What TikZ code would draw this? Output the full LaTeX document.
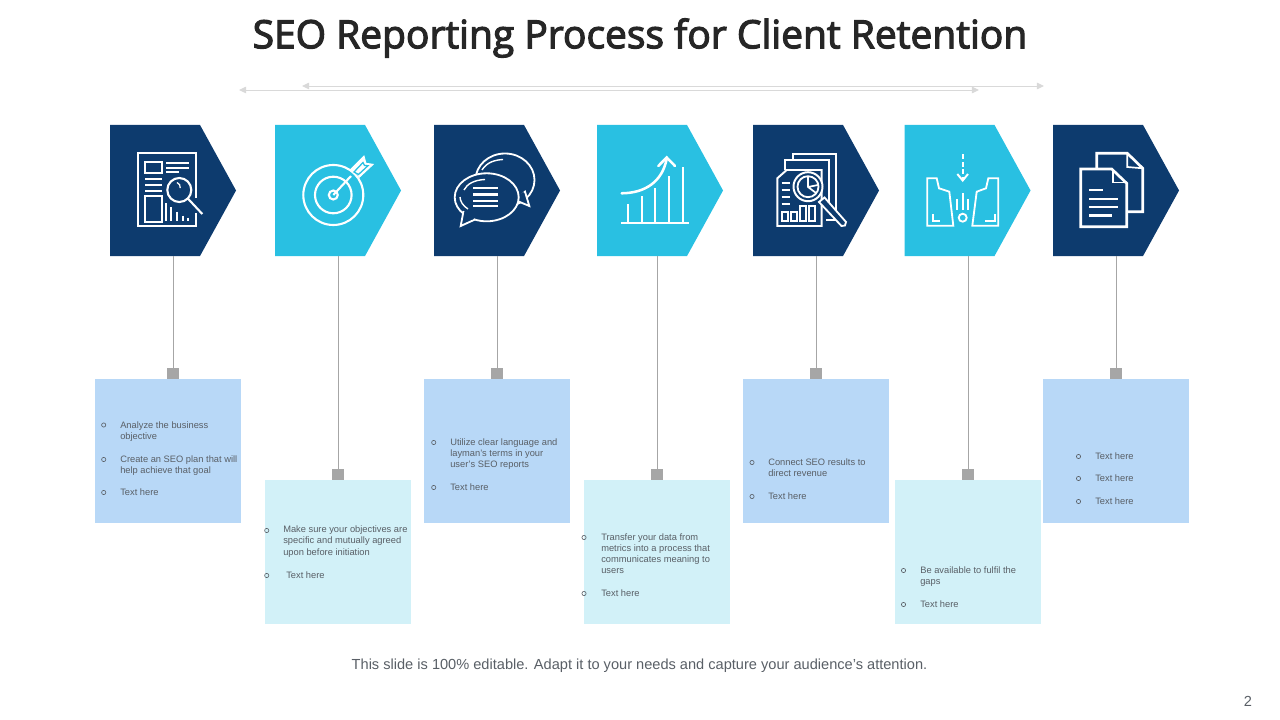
\documentclass[tikz,border=0pt]{standalone}
\usepackage{fontspec}
\setmainfont{Liberation Sans}
\newfontfamily\titlefont[FakeBold=3]{Open Sans}
\usetikzlibrary{arrows.meta, positioning, shapes.symbols}
\definecolor{seoNavy}{HTML}{0D3B6E}
\definecolor{seoCyan}{HTML}{29C0E2}
\definecolor{seoBlueBox}{HTML}{B8D8F7}
\definecolor{seoCyanBox}{HTML}{D2F1F8}
\definecolor{seoTab}{HTML}{A6A6A6}
\definecolor{seoRange}{HTML}{D9D9D9}
\definecolor{seoText}{HTML}{595F66}
\definecolor{seoTitle}{HTML}{262626}

\begin{document}
\begin{tikzpicture}[
  x=0.025cm, y=-0.025cm,
  pent/.style={signal, signal to=east, signal pointer angle=122.4, draw=none, anchor=west,
               minimum width=3.15cm, minimum height=3.275cm, inner sep=0pt, outer sep=0pt},
  navy/.style={pent, fill=seoNavy},
  cyan/.style={pent, fill=seoCyan},
  infobox/.style={anchor=north west, minimum width=3.65cm, inner sep=0pt, outer sep=0pt},
  bluebox/.style={infobox, fill=seoBlueBox, minimum height=3.6cm},
  cyanbox/.style={infobox, fill=seoCyanBox, minimum height=3.6cm},
  tab/.style={fill=seoTab, anchor=south, minimum width=0.3cm, minimum height=0.28cm, inner sep=0pt, outer sep=0pt},
  conn/.style={draw=seoTab, line width=0.75pt},
  rangearr/.style={{Triangle[length=5pt,width=4.6pt]}-{Triangle[length=5pt,width=4.6pt]}, draw=seoRange, line width=0.7pt},
  bul/.style={circle, draw=seoText, line width=0.45pt, minimum size=3pt, inner sep=0pt},
  itemtxt/.style={anchor=north west, inner sep=0pt, align=left, text=seoText,
                  font=\fontsize{6.62}{8}\selectfont},
  icon/.style={draw=white, line width=1.5pt, line join=miter},
  iconn/.style={icon, fill=seoNavy},
  iconc/.style={icon, fill=seoCyan}
]
\useasboundingbox (0,0) rectangle (1280,720);

\node[font=\titlefont\fontsize{27.7}{32}\selectfont, text=seoTitle] (title) at (640,38) {SEO Reporting Process for Client Retention};

\coordinate (rangeAl) at (239,90);
\coordinate (rangeAr) at (979,90);
\coordinate (rangeBl) at (302,86);
\coordinate (rangeBr) at (1044,86);
\draw[rangearr] (rangeAl) -- (rangeAr);
\draw[rangearr] (rangeBl) -- (rangeBr);

% arrow heads
\node[navy] (penta) at (110,190.5) {};
\node[cyan] (pentb) at (275,190.5) {};
\node[navy] (pentc) at (434,190.5) {};
\node[cyan] (pentd) at (597,190.5) {};
\node[navy] (pente) at (753,190.5) {};
\node[cyan] (pentf) at (904.5,190.5) {};
\node[navy] (pentg) at (1053,190.5) {};

% text boxes
\node[bluebox] (boxa) at (95,379) {};
\node[cyanbox] (boxb) at (265,480) {};
\node[bluebox] (boxc) at (424,379) {};
\node[cyanbox] (boxd) at (584,480) {};
\node[bluebox] (boxe) at (743,379) {};
\node[cyanbox] (boxf) at (894.5,480) {};
\node[bluebox] (boxg) at (1043,379) {};

\node[tab] (taba) at (173.3,379) {};
\node[tab] (tabb) at (338.3,480) {};
\node[tab] (tabc) at (497.3,379) {};
\node[tab] (tabd) at (657.3,480) {};
\node[tab] (tabe) at (816.3,379) {};
\node[tab] (tabf) at (968.4,480) {};
\node[tab] (tabg) at (1116.3,379) {};

\draw[conn] (taba.north) -- (taba.north |- penta.south);
\draw[conn] (tabb.north) -- (tabb.north |- pentb.south);
\draw[conn] (tabc.north) -- (tabc.north |- pentc.south);
\draw[conn] (tabd.north) -- (tabd.north |- pentd.south);
\draw[conn] (tabe.north) -- (tabe.north |- pente.south);
\draw[conn] (tabf.north) -- (tabf.north |- pentf.south);
\draw[conn] (tabg.north) -- (tabg.north |- pentg.south);

% lists
\node[bul] (bula1) at (103.7,425) {};
\node[itemtxt] (txta1) at (120,421) {Analyze the business\\objective};
\node[bul] (bula2) at (103.7,459.5) {};
\node[itemtxt] (txta2) at (120,455) {Create an SEO plan that will\\help achieve that goal};
\node[bul] (bula3) at (103.7,492.5) {};
\node[itemtxt] (txta3) at (120,488) {Text here};

\node[bul] (bulb1) at (266.7,530.5) {};
\node[itemtxt] (txtb1) at (283,525.5) {Make sure your objectives are\\specific and mutually agreed\\upon before initiation};
\node[bul] (bulb2) at (266.7,575.5) {};
\node[itemtxt] (txtb2) at (286,571) {Text here};

\node[bul] (bulc1) at (433.7,442.5) {};
\node[itemtxt] (txtc1) at (450,438) {Utilize clear language and\\layman's terms in your\\user's SEO reports};
\node[bul] (bulc2) at (433.7,487.5) {};
\node[itemtxt] (txtc2) at (450,483) {Text here};

\node[bul] (buld1) at (584,537.5) {};
\node[itemtxt] (txtd1) at (601,533) {Transfer your data from\\metrics into a process that\\communicates meaning to\\users};
\node[bul] (buld2) at (584,593.5) {};
\node[itemtxt] (txtd2) at (601,589) {Text here};

\node[bul] (bule1) at (752,462.5) {};
\node[itemtxt] (txte1) at (768,458) {Connect SEO results to\\direct revenue};
\node[bul] (bule2) at (752,496.5) {};
\node[itemtxt] (txte2) at (768,492) {Text here};

\node[bul] (bulf1) at (903.5,570.5) {};
\node[itemtxt] (txtf1) at (920,566) {Be available to fulfil the\\gaps};
\node[bul] (bulf2) at (903.5,604.5) {};
\node[itemtxt] (txtf2) at (920,600) {Text here};

\node[bul] (bulg1) at (1078.5,456.5) {};
\node[itemtxt] (txtg1) at (1095,452) {Text here};
\node[bul] (bulg2) at (1078.5,478.5) {};
\node[itemtxt] (txtg2) at (1095,474) {Text here};
\node[bul] (bulg3) at (1078.5,501.5) {};
\node[itemtxt] (txtg3) at (1095,497) {Text here};

\node[font=\fontsize{10.38}{12}\selectfont, text=seoText] (note) at (639.5,665.5) {This slide is 100\% editable. Adapt it to your needs and capture your audience's attention.};
\node[font=\fontsize{10.38}{12}\selectfont, text=seoText] (pageno) at (1248,701.5) {2};

% icon: report with magnifier
\draw[icon] (138.3,153.3) rectangle (195.7,226);
\draw[icon, line width=1.4pt] (145,161.7) rectangle (161.7,173.3);
\draw[icon, line width=1.4pt] (145,196) rectangle (161.7,221.7);
\draw[icon, line width=1.4pt] (166,163.3) -- (189,163.3) (166,167.7) -- (189,167.7) (166,172.3) -- (179.3,172.3);
\draw[icon, line width=1.4pt] (145,179) -- (161.7,179) (145,185) -- (161.7,185) (145,190.7) -- (161.7,190.7);
\draw[icon, line width=1.4pt] (166,203.3) -- (166,221) (171,207.3) -- (171,221) (176.7,211.7) -- (176.7,221) (182.7,215.7) -- (182.7,221) (187.7,217.7) -- (187.7,221);
\draw[draw=seoNavy, line width=3pt] (195.7,198) -- (195.7,213);
\draw[iconn] (179.3,190) circle [radius=12];
\draw[icon] (188.3,199) -- (202.3,214);
\draw[icon, line width=0.9pt] (177,182.5) arc (-70:10:5);

% icon: target
\draw[icon] (333.3,195) circle [radius=30];
\draw[icon] (333.3,195) circle [radius=18.3];
\draw[icon] (333.3,195) circle [radius=4.5];
\draw[icon] (333.3,195) -- (351,176);
\draw[icon, fill=white, line width=0.6pt] (350,170) -- (364,156) -- (366,163.3) -- (373.3,164.3) -- (359.3,177.3) -- (356,172) -- cycle;
\draw[draw=seoCyan, line width=0.9pt] (354,172) -- (363,162.5) -- (364.5,165.5) -- (368,165.7) -- (358.5,174.5) -- cycle;

% icon: speech bubbles
\draw[icon, line width=1.3pt] (505,180) ellipse [x radius=29.5, y radius=26.5];
\draw[iconn, line width=1.3pt] (525,191.7) -- (529.3,206) -- (515,200) -- cycle;
\draw[draw=seoNavy, line width=2pt] (524,193) -- (516,199);
\draw[iconn, line width=1.3pt] (486.7,197.3) ellipse [x radius=32, y radius=24];
\draw[iconn, line width=1.3pt] (463.5,211) -- (460.7,226) -- (475,219.5);
\draw[draw=seoNavy, line width=2pt] (465,212) -- (473.5,218.5);
\draw[icon, line width=1.7pt] (473.3,188.3) -- (498.3,188.3) (473.3,194.5) -- (498.3,194.5) (473.3,200.7) -- (498.3,200.7) (473.3,206) -- (498.3,206);
\draw[icon, line width=1pt] (464,190) .. controls (467,184) and (474,180) .. (485,179.5);
\draw[icon, line width=1pt] (482,170) .. controls (487,162) and (495,160) .. (503,159.5);
\draw[icon, line width=1pt] (460,197) .. controls (460,201) and (463,206) .. (468,209);

% icon: rising chart
\draw[icon, line width=1.6pt] (621,223.3) -- (689.3,223.3);
\draw[icon, line width=1.6pt] (628.3,223.3) -- (628.3,204.3) (641.7,223.3) -- (641.7,196) (655.3,223.3) -- (655.3,187.7) (669.3,223.3) -- (669.3,175.7) (683.3,223.3) -- (683.3,167.3);
\draw[icon, line width=1.8pt, line cap=round] (621.7,193.3) .. controls (645,193) and (662,182) .. (666.7,159);
\draw[icon, line width=1.8pt, line cap=round] (658.3,166) -- (666.7,157.5) -- (675,166);

% icon: pages with magnifier
\draw[icon, line width=1.3pt] (792.7,160) -- (792.7,154.3) -- (836,154.3) -- (836,220) -- (826,220);
\draw[icon, line width=1.3pt] (785,170) -- (785,160) -- (829,160) -- (829,205);
\draw[iconn, line width=1.4pt] (777.3,178.3) -- (786.7,170) -- (821.7,170) -- (821.7,226) -- (777.3,226) -- cycle;
\draw[icon, line width=1.2pt] (781.5,183) -- (790,183) (781.5,190) -- (790,190) (781.5,197) -- (790,197) (781.5,204) -- (790,204);
\draw[icon, line width=1.2pt] (782,212) rectangle (788,221) (791,212) rectangle (797,221) (800,206) rectangle (806,221) (809,206) rectangle (815,221);
\draw[iconn, line width=1.4pt] (808,186.7) circle [radius=14.5];
\draw[icon, line width=1.3pt] (808,186.7) circle [radius=10.5];
\draw[icon, line width=1.2pt] (808,176.5) -- (808,187) -- (816,193) (808,187) -- (818,185);
\draw[iconn, line width=1.3pt] (819,202) -- (824.5,197.5) -- (846,222) -- (845,225.5) -- (841.5,226) -- cycle;

% icon: gap funnel
\draw[icon, dash pattern=on 3.4pt off 2pt, line width=1.4pt] (962.7,154.3) -- (962.7,179);
\draw[icon, line width=1.4pt] (957.3,174) -- (962.7,180.5) -- (968,174);
\draw[icon, line width=1.3pt] (927.3,178.3) -- (936.7,178.3) -- (939,188.3) -- (949.3,191.7) -- (953.3,225.7) -- (927.3,225.7) -- cycle;
\draw[icon, line width=1.3pt] (998.3,178.3) -- (988.3,178.3) -- (986,188.3) -- (976.7,191.7) -- (972.3,225.7) -- (998.3,225.7) -- cycle;
\draw[icon, line width=1.2pt] (933.3,214) -- (933.3,220.7) -- (940,220.7);
\draw[icon, line width=1.2pt] (995,214) -- (995,220.7) -- (985,220.7);
\draw[icon, line width=1.3pt] (962.7,217.7) circle [radius=4];
\draw[icon, line width=1.3pt] (957.3,199.3) -- (957.3,210) (962.7,193.3) -- (962.7,210) (967.7,199.3) -- (967.7,210);

% icon: two documents
\draw[icon, line width=1.9pt] (1096.7,169) -- (1096.7,153.3) -- (1127.3,153.3) -- (1142.7,168.3) -- (1142.7,211.7) -- (1126.7,211.7);
\draw[icon, line width=1.2pt] (1127.3,153.3) -- (1127.3,167) -- (1142.7,168.3);
\draw[icon, line width=1.9pt] (1080.7,169) -- (1111.7,169) -- (1126.7,183.3) -- (1126.7,226.7) -- (1080.7,226.7) -- cycle;
\draw[icon, line width=1.2pt] (1112.7,169) -- (1112.7,182.5) -- (1126.7,182.5);
\draw[icon, line width=1.9pt] (1089.3,190) -- (1102.7,190) (1089.3,199) -- (1118.3,199) (1089.3,207) -- (1118.3,207) (1089.3,215.7) -- (1111.7,215.7);
\end{tikzpicture}
\end{document}
